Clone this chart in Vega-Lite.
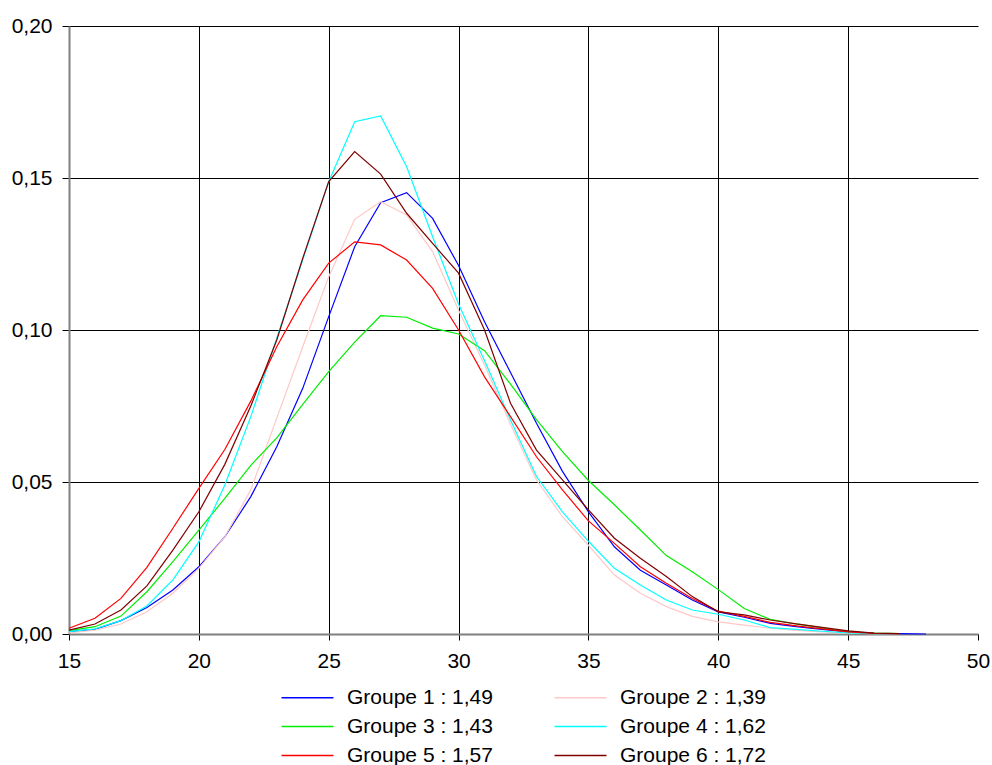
{
"$schema": "https://vega.github.io/schema/vega-lite/v6.json",
"width": 909, "height": 608,
"autosize": {"type": "none"},
"padding": {"left": 69, "top": 26, "right": 14, "bottom": 131},
"background": "white",
"config": {"view": {"stroke": null}, "font": "Liberation Sans"},
"datasets": {"d": [
{"g":"Groupe 1 : 1,49","x":15,"y":0.0008},{"g":"Groupe 1 : 1,49","x":16,"y":0.0015},{"g":"Groupe 1 : 1,49","x":17,"y":0.0044},{"g":"Groupe 1 : 1,49","x":18,"y":0.0087},{"g":"Groupe 1 : 1,49","x":19,"y":0.0145},{"g":"Groupe 1 : 1,49","x":20,"y":0.0221},{"g":"Groupe 1 : 1,49","x":21,"y":0.032},{"g":"Groupe 1 : 1,49","x":22,"y":0.0452},{"g":"Groupe 1 : 1,49","x":23,"y":0.0616},{"g":"Groupe 1 : 1,49","x":24,"y":0.0808},{"g":"Groupe 1 : 1,49","x":25,"y":0.1044},{"g":"Groupe 1 : 1,49","x":26,"y":0.1274},{"g":"Groupe 1 : 1,49","x":27,"y":0.1419},{"g":"Groupe 1 : 1,49","x":28,"y":0.1452},{"g":"Groupe 1 : 1,49","x":29,"y":0.1367},{"g":"Groupe 1 : 1,49","x":30,"y":0.1212},{"g":"Groupe 1 : 1,49","x":31,"y":0.1027},{"g":"Groupe 1 : 1,49","x":32,"y":0.086},{"g":"Groupe 1 : 1,49","x":33,"y":0.0693},{"g":"Groupe 1 : 1,49","x":34,"y":0.0535},{"g":"Groupe 1 : 1,49","x":35,"y":0.0402},{"g":"Groupe 1 : 1,49","x":36,"y":0.0287},{"g":"Groupe 1 : 1,49","x":37,"y":0.021},{"g":"Groupe 1 : 1,49","x":38,"y":0.0161},{"g":"Groupe 1 : 1,49","x":39,"y":0.0112},{"g":"Groupe 1 : 1,49","x":40,"y":0.0073},{"g":"Groupe 1 : 1,49","x":41,"y":0.0055},{"g":"Groupe 1 : 1,49","x":42,"y":0.0035},{"g":"Groupe 1 : 1,49","x":43,"y":0.0024},{"g":"Groupe 1 : 1,49","x":44,"y":0.0015},{"g":"Groupe 1 : 1,49","x":45,"y":0.0007},{"g":"Groupe 1 : 1,49","x":46,"y":0.0002},{"g":"Groupe 1 : 1,49","x":47,"y":0.0001},{"g":"Groupe 1 : 1,49","x":48,"y":0.0},
{"g":"Groupe 2 : 1,39","x":15,"y":0.0004},{"g":"Groupe 2 : 1,39","x":16,"y":0.0013},{"g":"Groupe 2 : 1,39","x":17,"y":0.0033},{"g":"Groupe 2 : 1,39","x":18,"y":0.0073},{"g":"Groupe 2 : 1,39","x":19,"y":0.0134},{"g":"Groupe 2 : 1,39","x":20,"y":0.0216},{"g":"Groupe 2 : 1,39","x":21,"y":0.032},{"g":"Groupe 2 : 1,39","x":22,"y":0.0474},{"g":"Groupe 2 : 1,39","x":23,"y":0.071},{"g":"Groupe 2 : 1,39","x":24,"y":0.0945},{"g":"Groupe 2 : 1,39","x":25,"y":0.1175},{"g":"Groupe 2 : 1,39","x":26,"y":0.1364},{"g":"Groupe 2 : 1,39","x":27,"y":0.1422},{"g":"Groupe 2 : 1,39","x":28,"y":0.1378},{"g":"Groupe 2 : 1,39","x":29,"y":0.1258},{"g":"Groupe 2 : 1,39","x":30,"y":0.1065},{"g":"Groupe 2 : 1,39","x":31,"y":0.0885},{"g":"Groupe 2 : 1,39","x":32,"y":0.069},{"g":"Groupe 2 : 1,39","x":33,"y":0.0507},{"g":"Groupe 2 : 1,39","x":34,"y":0.0386},{"g":"Groupe 2 : 1,39","x":35,"y":0.0292},{"g":"Groupe 2 : 1,39","x":36,"y":0.0194},{"g":"Groupe 2 : 1,39","x":37,"y":0.0134},{"g":"Groupe 2 : 1,39","x":38,"y":0.009},{"g":"Groupe 2 : 1,39","x":39,"y":0.0058},{"g":"Groupe 2 : 1,39","x":40,"y":0.004},{"g":"Groupe 2 : 1,39","x":41,"y":0.0029},{"g":"Groupe 2 : 1,39","x":42,"y":0.0019},{"g":"Groupe 2 : 1,39","x":43,"y":0.0012},{"g":"Groupe 2 : 1,39","x":44,"y":0.0007},{"g":"Groupe 2 : 1,39","x":45,"y":0.0003},{"g":"Groupe 2 : 1,39","x":46,"y":0.0001},{"g":"Groupe 2 : 1,39","x":47,"y":0.0},
{"g":"Groupe 3 : 1,43","x":15,"y":0.0011},{"g":"Groupe 3 : 1,43","x":16,"y":0.0024},{"g":"Groupe 3 : 1,43","x":17,"y":0.0059},{"g":"Groupe 3 : 1,43","x":18,"y":0.0139},{"g":"Groupe 3 : 1,43","x":19,"y":0.0238},{"g":"Groupe 3 : 1,43","x":20,"y":0.0342},{"g":"Groupe 3 : 1,43","x":21,"y":0.0446},{"g":"Groupe 3 : 1,43","x":22,"y":0.0555},{"g":"Groupe 3 : 1,43","x":23,"y":0.0645},{"g":"Groupe 3 : 1,43","x":24,"y":0.0755},{"g":"Groupe 3 : 1,43","x":25,"y":0.0863},{"g":"Groupe 3 : 1,43","x":26,"y":0.096},{"g":"Groupe 3 : 1,43","x":27,"y":0.1047},{"g":"Groupe 3 : 1,43","x":28,"y":0.1042},{"g":"Groupe 3 : 1,43","x":29,"y":0.1006},{"g":"Groupe 3 : 1,43","x":30,"y":0.0987},{"g":"Groupe 3 : 1,43","x":31,"y":0.0932},{"g":"Groupe 3 : 1,43","x":32,"y":0.0822},{"g":"Groupe 3 : 1,43","x":33,"y":0.0705},{"g":"Groupe 3 : 1,43","x":34,"y":0.06},{"g":"Groupe 3 : 1,43","x":35,"y":0.0505},{"g":"Groupe 3 : 1,43","x":36,"y":0.0425},{"g":"Groupe 3 : 1,43","x":37,"y":0.0342},{"g":"Groupe 3 : 1,43","x":38,"y":0.0258},{"g":"Groupe 3 : 1,43","x":39,"y":0.0205},{"g":"Groupe 3 : 1,43","x":40,"y":0.0146},{"g":"Groupe 3 : 1,43","x":41,"y":0.0084},{"g":"Groupe 3 : 1,43","x":42,"y":0.0048},{"g":"Groupe 3 : 1,43","x":43,"y":0.0033},{"g":"Groupe 3 : 1,43","x":44,"y":0.002},{"g":"Groupe 3 : 1,43","x":45,"y":0.0008},{"g":"Groupe 3 : 1,43","x":46,"y":0.0003},{"g":"Groupe 3 : 1,43","x":47,"y":0.0001},
{"g":"Groupe 4 : 1,62","x":15,"y":0.0008},{"g":"Groupe 4 : 1,62","x":16,"y":0.0017},{"g":"Groupe 4 : 1,62","x":17,"y":0.0044},{"g":"Groupe 4 : 1,62","x":18,"y":0.0092},{"g":"Groupe 4 : 1,62","x":19,"y":0.0178},{"g":"Groupe 4 : 1,62","x":20,"y":0.0303},{"g":"Groupe 4 : 1,62","x":21,"y":0.049},{"g":"Groupe 4 : 1,62","x":22,"y":0.0715},{"g":"Groupe 4 : 1,62","x":23,"y":0.0973},{"g":"Groupe 4 : 1,62","x":24,"y":0.1231},{"g":"Groupe 4 : 1,62","x":25,"y":0.1488},{"g":"Groupe 4 : 1,62","x":26,"y":0.1685},{"g":"Groupe 4 : 1,62","x":27,"y":0.1704},{"g":"Groupe 4 : 1,62","x":28,"y":0.1537},{"g":"Groupe 4 : 1,62","x":29,"y":0.1307},{"g":"Groupe 4 : 1,62","x":30,"y":0.1085},{"g":"Groupe 4 : 1,62","x":31,"y":0.0899},{"g":"Groupe 4 : 1,62","x":32,"y":0.0704},{"g":"Groupe 4 : 1,62","x":33,"y":0.0518},{"g":"Groupe 4 : 1,62","x":34,"y":0.0402},{"g":"Groupe 4 : 1,62","x":35,"y":0.0305},{"g":"Groupe 4 : 1,62","x":36,"y":0.0216},{"g":"Groupe 4 : 1,62","x":37,"y":0.0161},{"g":"Groupe 4 : 1,62","x":38,"y":0.0112},{"g":"Groupe 4 : 1,62","x":39,"y":0.0079},{"g":"Groupe 4 : 1,62","x":40,"y":0.0065},{"g":"Groupe 4 : 1,62","x":41,"y":0.0046},{"g":"Groupe 4 : 1,62","x":42,"y":0.0021},{"g":"Groupe 4 : 1,62","x":43,"y":0.0015},{"g":"Groupe 4 : 1,62","x":44,"y":0.0009},{"g":"Groupe 4 : 1,62","x":45,"y":0.0004},{"g":"Groupe 4 : 1,62","x":46,"y":0.0001},{"g":"Groupe 4 : 1,62","x":47,"y":0.0},
{"g":"Groupe 5 : 1,57","x":15,"y":0.0019},{"g":"Groupe 5 : 1,57","x":16,"y":0.0052},{"g":"Groupe 5 : 1,57","x":17,"y":0.0117},{"g":"Groupe 5 : 1,57","x":18,"y":0.0219},{"g":"Groupe 5 : 1,57","x":19,"y":0.0348},{"g":"Groupe 5 : 1,57","x":20,"y":0.0479},{"g":"Groupe 5 : 1,57","x":21,"y":0.0607},{"g":"Groupe 5 : 1,57","x":22,"y":0.0766},{"g":"Groupe 5 : 1,57","x":23,"y":0.0945},{"g":"Groupe 5 : 1,57","x":24,"y":0.1099},{"g":"Groupe 5 : 1,57","x":25,"y":0.122},{"g":"Groupe 5 : 1,57","x":26,"y":0.129},{"g":"Groupe 5 : 1,57","x":27,"y":0.128},{"g":"Groupe 5 : 1,57","x":28,"y":0.123},{"g":"Groupe 5 : 1,57","x":29,"y":0.1137},{"g":"Groupe 5 : 1,57","x":30,"y":0.1},{"g":"Groupe 5 : 1,57","x":31,"y":0.0846},{"g":"Groupe 5 : 1,57","x":32,"y":0.0715},{"g":"Groupe 5 : 1,57","x":33,"y":0.0583},{"g":"Groupe 5 : 1,57","x":34,"y":0.0474},{"g":"Groupe 5 : 1,57","x":35,"y":0.0372},{"g":"Groupe 5 : 1,57","x":36,"y":0.0298},{"g":"Groupe 5 : 1,57","x":37,"y":0.0221},{"g":"Groupe 5 : 1,57","x":38,"y":0.0167},{"g":"Groupe 5 : 1,57","x":39,"y":0.0117},{"g":"Groupe 5 : 1,57","x":40,"y":0.0075},{"g":"Groupe 5 : 1,57","x":41,"y":0.0058},{"g":"Groupe 5 : 1,57","x":42,"y":0.0038},{"g":"Groupe 5 : 1,57","x":43,"y":0.0027},{"g":"Groupe 5 : 1,57","x":44,"y":0.0017},{"g":"Groupe 5 : 1,57","x":45,"y":0.0007},{"g":"Groupe 5 : 1,57","x":46,"y":0.0002},{"g":"Groupe 5 : 1,57","x":47,"y":0.0},
{"g":"Groupe 6 : 1,72","x":15,"y":0.0013},{"g":"Groupe 6 : 1,72","x":16,"y":0.0033},{"g":"Groupe 6 : 1,72","x":17,"y":0.0079},{"g":"Groupe 6 : 1,72","x":18,"y":0.0158},{"g":"Groupe 6 : 1,72","x":19,"y":0.0276},{"g":"Groupe 6 : 1,72","x":20,"y":0.0402},{"g":"Groupe 6 : 1,72","x":21,"y":0.0558},{"g":"Groupe 6 : 1,72","x":22,"y":0.075},{"g":"Groupe 6 : 1,72","x":23,"y":0.0967},{"g":"Groupe 6 : 1,72","x":24,"y":0.1236},{"g":"Groupe 6 : 1,72","x":25,"y":0.1488},{"g":"Groupe 6 : 1,72","x":26,"y":0.1587},{"g":"Groupe 6 : 1,72","x":27,"y":0.1513},{"g":"Groupe 6 : 1,72","x":28,"y":0.1384},{"g":"Groupe 6 : 1,72","x":29,"y":0.1285},{"g":"Groupe 6 : 1,72","x":30,"y":0.1187},{"g":"Groupe 6 : 1,72","x":31,"y":0.1},{"g":"Groupe 6 : 1,72","x":32,"y":0.0759},{"g":"Groupe 6 : 1,72","x":33,"y":0.0605},{"g":"Groupe 6 : 1,72","x":34,"y":0.0507},{"g":"Groupe 6 : 1,72","x":35,"y":0.0408},{"g":"Groupe 6 : 1,72","x":36,"y":0.0315},{"g":"Groupe 6 : 1,72","x":37,"y":0.0249},{"g":"Groupe 6 : 1,72","x":38,"y":0.0189},{"g":"Groupe 6 : 1,72","x":39,"y":0.0123},{"g":"Groupe 6 : 1,72","x":40,"y":0.0073},{"g":"Groupe 6 : 1,72","x":41,"y":0.0063},{"g":"Groupe 6 : 1,72","x":42,"y":0.0046},{"g":"Groupe 6 : 1,72","x":43,"y":0.0033},{"g":"Groupe 6 : 1,72","x":44,"y":0.0022},{"g":"Groupe 6 : 1,72","x":45,"y":0.001},{"g":"Groupe 6 : 1,72","x":46,"y":0.0003},{"g":"Groupe 6 : 1,72","x":47,"y":0.0001}
]},
"data": {"name": "d"},
"mark": {"type": "line", "strokeWidth": 1.2},
"encoding": {
  "x": {"field": "x", "type": "quantitative",
    "scale": {"domain": [15, 50], "nice": false, "zero": false},
    "axis": {"title": null, "values": [15,20,25,30,35,40,45,50], "grid": true,
      "gridColor": "black", "gridWidth": 1,
      "gridOpacity": {"condition": {"test": "datum.value == 50", "value": 0}, "value": 1},
      "domainColor": "#808080", "domainWidth": 2, "tickColor": "black", "tickSize": 6, "tickWidth": 1,
      "labelFontSize": 21, "labelColor": "black", "labelPadding": 10, "labelFont": "Liberation Sans", "labelFlush": false}},
  "y": {"field": "y", "type": "quantitative",
    "scale": {"domain": [0, 0.2], "nice": false},
    "axis": {"title": null, "values": [0,0.05,0.1,0.15,0.2], "grid": true,
      "labelExpr": "replace(format(datum.value, '.2f'), '.', ',')",
      "gridColor": "black", "gridWidth": 1,
      "domainColor": "#808080", "domainWidth": 2, "tickColor": "black", "tickSize": 7, "tickWidth": 1,
      "labelFontSize": 21, "labelColor": "black", "labelPadding": 10, "labelFont": "Liberation Sans"}},
  "color": {"field": "g", "type": "nominal",
    "scale": {"domain": ["Groupe 1 : 1,49","Groupe 2 : 1,39","Groupe 3 : 1,43","Groupe 4 : 1,62","Groupe 5 : 1,57","Groupe 6 : 1,72"],
              "range": ["#0000FF","#FFC8C8","#00EE00","#00FFFF","#FF0000","#800000"]},
    "legend": {"title": null, "orient": "none", "legendX": 228, "legendY": 661, "columns": 2, "direction": "horizontal",
      "symbolType": "M-5.2,0H5.2", "symbolSize": 100, "symbolStrokeWidth": 1.5,
      "labelFontSize": 21, "labelColor": "black", "labelFont": "Liberation Sans", "labelOffset": 29,
      "columnPadding": 58, "rowPadding": 7, "padding": 0, "labelLimit": 300}}
}
}
